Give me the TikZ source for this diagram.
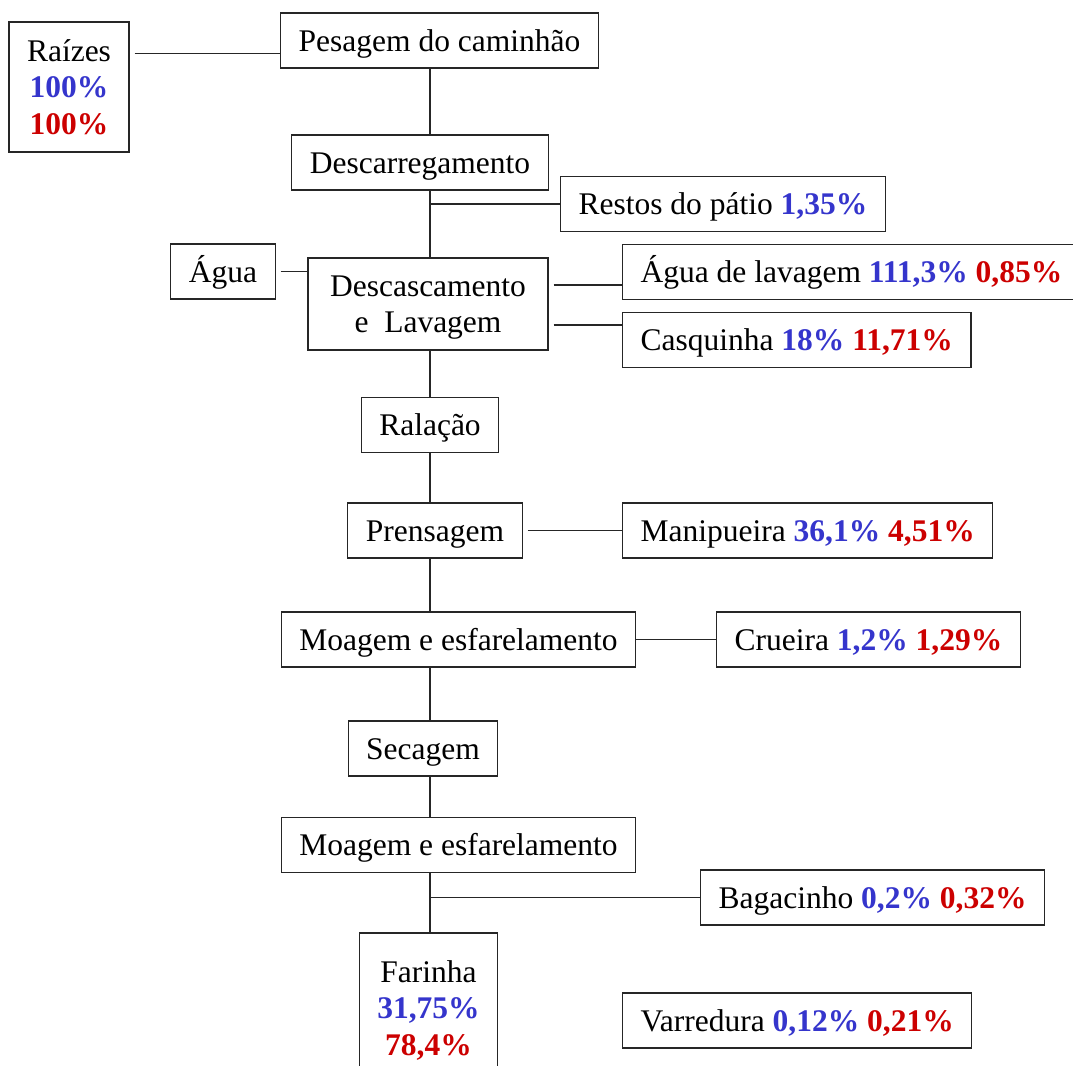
\documentclass[tikz,border=0pt]{standalone}
\usepackage{fontspec}
\setmainfont{Liberation Serif}
\usepackage{xcolor}
\usepackage{tikz}
\usetikzlibrary{positioning, calc}
\definecolor{pctblue}{HTML}{3535CC}
\definecolor{pctred}{HTML}{CC0000}
\newcommand{\pblue}[1]{\textbf{\color{pctblue}#1}}
\newcommand{\pred}[1]{\textbf{\color{pctred}#1}}
\tikzset{
  boxnode/.style={draw=black!85,line width=0.6pt,rectangle,inner xsep=9pt,inner ysep=2pt,
    align=center,text depth=0pt,font=\fontsize{15.75}{18.25}\selectfont},
  stepnode/.style={boxnode,minimum height=27.5pt,text height=10.8pt},
  outnode/.style={stepnode,anchor=west},
  flowedge/.style={draw=black!85,line width=0.7pt},
  gapedge/.style={flowedge,shorten <=2.5pt},
}
\begin{document}
\begin{tikzpicture}[x=0.5pt,y=-0.5pt]
  \path[use as bounding box] (0,0) rectangle (1073,1066);
  \clip (0,0) rectangle (1073,1066);
  \coordinate (sp) at (430,0);
  \node[boxnode,minimum width=59pt,minimum height=65pt] (nRaiz) at (69,87) {Raízes\\\pblue{100\%}\\\pred{100\%}};
  \node[stepnode] (nPes) at (439.5,40.5) {Pesagem do caminhão};
  \node[stepnode] (nDesc) at (420,162.5) {Descarregamento};
  \node[outnode] (nRest) at (560,204) {Restos do pátio \pblue{1,35\%}};
  \node[stepnode] (nAgua) at (223,271.5) {Água};
  \node[boxnode,minimum width=120pt,minimum height=46pt] (nLav) at (428,304) {Descascamento\\e~~Lavagem};
  \node[outnode] (nAgLav) at (622,272) {Água de lavagem \pblue{111,3\%} \pred{0,85\%}};
  \node[outnode] (nCasq) at (622,340) {Casquinha \pblue{18\%} \pred{11,71\%}};
  \node[stepnode] (nRal) at (430,425) {Ralação};
  \node[stepnode] (nPren) at (435,530.5) {Prensagem};
  \node[outnode] (nMani) at (622,530.5) {Manipueira \pblue{36,1\%} \pred{4,51\%}};
  \node[stepnode] (nMoa) at (458.5,639.5) {Moagem e esfarelamento};
  \node[outnode] (nCrue) at (716,639.5) {Crueira \pblue{1,2\%} \pred{1,29\%}};
  \node[stepnode] (nSec) at (423,748.5) {Secagem};
  \node[stepnode] (nMoaB) at (458.5,845) {Moagem e esfarelamento};
  \node[outnode] (nBag) at (700,897.5) {Bagacinho \pblue{0,2\%} \pred{0,32\%}};
  \node[boxnode,minimum width=68.5pt,minimum height=75pt] (nFar) at (428.5,1008) {Farinha\\\pblue{31,75\%}\\\pred{78,4\%}};
  \node[outnode] (nVar) at (622,1020.5) {Varredura \pblue{0,12\%} \pred{0,21\%}};
  % main line
  \draw[gapedge] ([yshift=-6.5pt]nRaiz.east |- nPes.west) -- ([yshift=-6.5pt]nPes.west);
  \draw[flowedge] (nPes.south -| sp) -- (nDesc.north -| sp);
  \draw[flowedge] (nDesc.south -| sp) -- (nLav.north -| sp);
  \draw[flowedge] (nRest.west -| sp) -- (nRest.west);
  \draw[gapedge] (nAgua.east) -- (nAgua.east -| nLav.west);
  \draw[gapedge] ([yshift=9.5pt]nLav.east) -- ([yshift=9.5pt]nLav.east -| nAgLav.west);
  \draw[gapedge] ([yshift=-10.5pt]nLav.east) -- ([yshift=-10.5pt]nLav.east -| nCasq.west);
  \draw[flowedge] (nLav.south -| sp) -- (nRal.north -| sp);
  \draw[flowedge] (nRal.south -| sp) -- (nPren.north -| sp);
  \draw[gapedge] (nPren.east) -- (nMani.west);
  \draw[flowedge] (nPren.south -| sp) -- (nMoa.north -| sp);
  \draw[flowedge] (nMoa.east) -- (nCrue.west);
  \draw[flowedge] (nMoa.south -| sp) -- (nSec.north -| sp);
  \draw[flowedge] (nSec.south -| sp) -- (nMoaB.north -| sp);
  \draw[flowedge] (nMoaB.south -| sp) -- (nFar.north -| sp);
  \draw[flowedge] (nBag.west -| sp) -- (nBag.west);
\end{tikzpicture}
\end{document}
